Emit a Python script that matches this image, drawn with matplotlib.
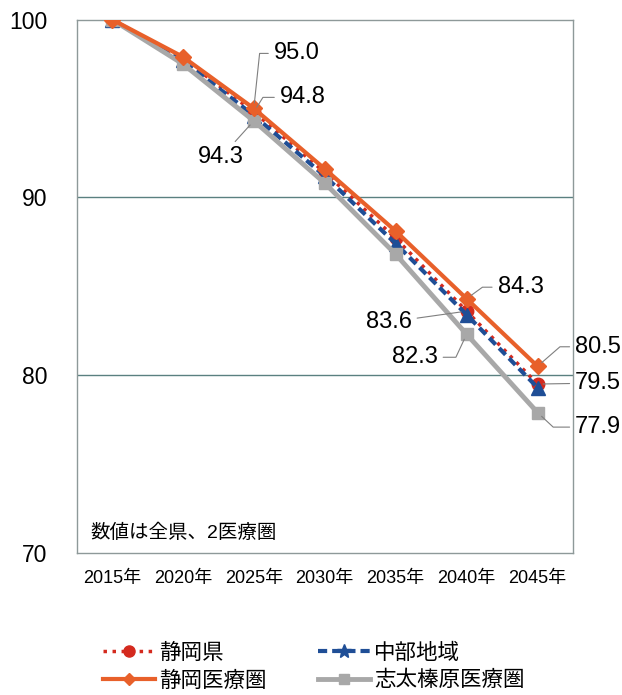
import matplotlib
matplotlib.use("Agg")
import matplotlib.pyplot as plt
from matplotlib.lines import Line2D

plt.rcParams['font.family'] = ['Liberation Sans', 'Noto Sans CJK JP', 'DejaVu Sans']

years = ["2015年", "2020年", "2025年", "2030年", "2035年", "2040年", "2045年"]
shizuoka_pref = [100, 97.8, 94.8, 91.4, 87.7, 83.6, 79.5]
chubu = [100, 97.7, 94.6, 91.2, 87.4, 83.4, 79.3]
shizuoka_med = [100, 97.9, 95.0, 91.6, 88.1, 84.3, 80.5]
shidahaibara = [100, 97.5, 94.3, 90.8, 86.8, 82.3, 77.9]

yticks = [70, 80, 90, 100]

c_red = '#d42a1e'
c_blue = '#1f4e96'
c_orange = '#e8602a'
c_gray = '#a8a8a8'

fig = plt.figure(figsize=(6.22, 6.95), dpi=100)
ax = fig.add_axes([76.5 / 622, 1 - 553 / 695, 496.5 / 622, 533.5 / 695])

x = list(range(len(years)))
red_ls = (0, (1, 1.6))
blue_ls = (0, (2.2, 1.2))
ax.plot(x, shizuoka_pref, color=c_red, ls=red_ls, lw=2.5, marker='o', ms=9, zorder=3)
ax.plot(x, chubu, color=c_blue, ls=blue_ls, lw=3, marker='^', ms=10, zorder=4)
ax.plot(x, shidahaibara, color=c_gray, lw=3.5, marker='s', ms=9, zorder=5)
ax.plot(x, shizuoka_med, color=c_orange, lw=3, marker='D', ms=8, zorder=6)

ax.set_xlim(-0.5, len(years) - 0.5)
ax.set_ylim(70, 100)
ax.set_yticks(yticks)
ax.set_yticklabels([str(v) for v in yticks], fontsize=16.5)
ax.set_xticks(x)
ax.set_xticklabels(years, fontsize=13)
ax.tick_params(axis='y', length=0, pad=21)
ax.tick_params(axis='x', length=0, pad=12)
for v in [80, 90]:
    ax.axhline(v, color='#5a8080', lw=1, zorder=1)
for s in ax.spines.values():
    s.set_color('#8e9999')
    s.set_linewidth(1)

ax.text(0.027, 0.037, '数値は全県、2医療圏', transform=ax.transAxes, fontsize=14,
        ha='left', va='center')

# annotations: (series values, index, offset px, ha, angleB or None)
ann = [
    (shizuoka_med, 2, (20, 55), 'left', 84),
    (shizuoka_pref, 2, (26, 14.6), 'left', 58),
    (shidahaibara, 2, (-10, -36.5), 'right', None),
    (shizuoka_med, 5, (31, 11.5), 'left', 36),
    (shizuoka_pref, 5, (-55, -11), 'right', None),
    (shidahaibara, 5, (-29, -23), 'right', 65),
    (shizuoka_med, 6, (37.6, 19.5), 'left', 41),
    (shizuoka_pref, 6, (37.6, 1), 'left', None),
    (shidahaibara, 6, (37.6, -14.6), 'left', -43),
]
for series, i, off, ha, angB in ann:
    cs = 'arc3,rad=0' if angB is None else f'angle,angleA=0,angleB={angB},rad=0'
    ax.annotate(f"{series[i]:.1f}", xy=(i, series[i]), xytext=off,
                textcoords='offset pixels', ha=ha, va='center', fontsize=17,
                arrowprops=dict(arrowstyle='-', color='#7f7f7f', lw=0.8,
                                shrinkA=2, shrinkB=4, connectionstyle=cs),
                zorder=7, annotation_clip=False)

h_red = Line2D([], [], color=c_red, ls=red_ls, lw=2.5, marker='o', ms=8)
h_blue = Line2D([], [], color=c_blue, ls=blue_ls, lw=3, marker='*', ms=10)
h_orange = Line2D([], [], color=c_orange, lw=3, marker='D', ms=6)
h_gray = Line2D([], [], color=c_gray, lw=3.5, marker='s', ms=7)

fig.legend(handles=[h_red, h_orange, h_blue, h_gray],
           labels=['静岡県', '静岡医療圏', '中部地域', '志太榛原医療圏'],
           loc='upper left', ncol=2, bbox_to_anchor=(103 / 622, 1 - 643 / 695),
           frameon=False, fontsize=15.5, borderpad=0, borderaxespad=0,
           handlelength=2.4, columnspacing=2.4, handletextpad=0.2,
           labelspacing=0.3)

fig.savefig('out.png', dpi=100)
